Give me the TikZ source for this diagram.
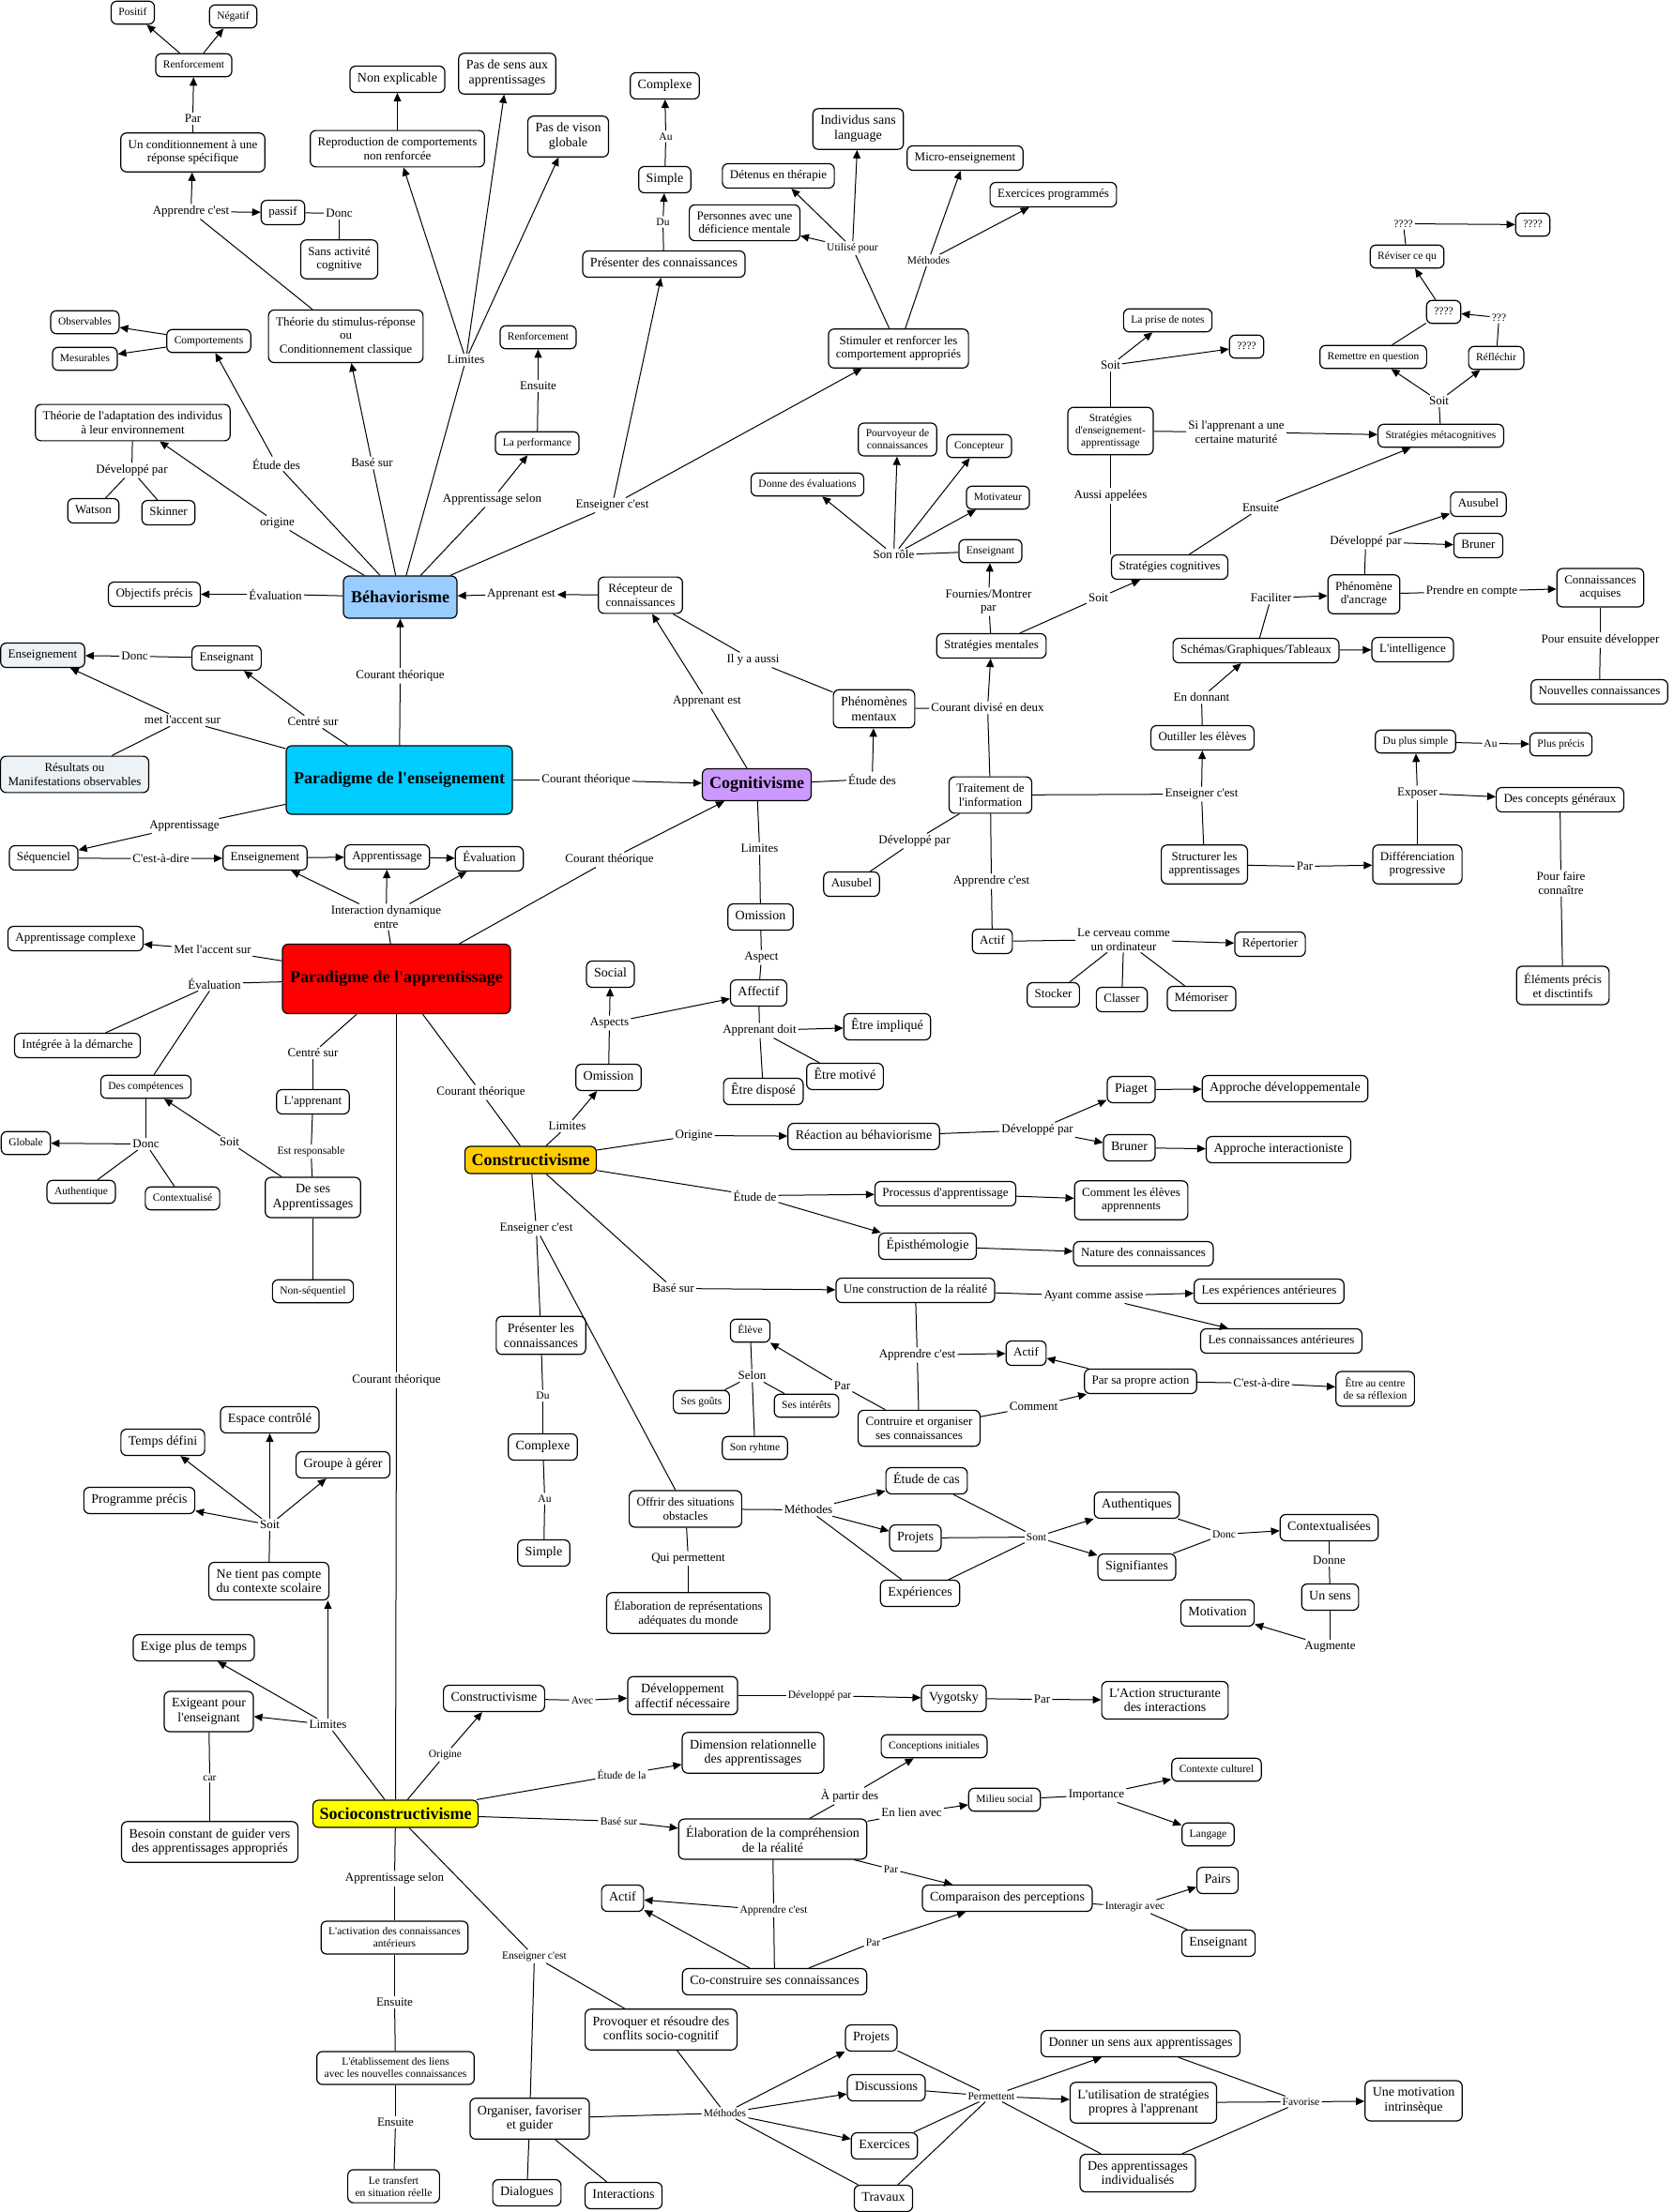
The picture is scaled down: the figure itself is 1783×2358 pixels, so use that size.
\documentclass[tikz,border=0pt]{standalone}
\usepackage{fontspec}
\setmainfont{Liberation Serif}[Ligatures=TeXOff]
\usetikzlibrary{arrows.meta}
\newcommand{\fS}{\fontsize{11.5}{13}\selectfont}
\newcommand{\fM}{\fontsize{13}{14.6}\selectfont}
\newcommand{\fL}{\fontsize{14}{15.7}\selectfont}
\newcommand{\fB}{\fontsize{18}{20}\selectfont\bfseries}
\definecolor{behavc}{RGB}{153,204,255}
\definecolor{pensc}{RGB}{0,204,255}
\definecolor{cognc}{RGB}{204,153,255}
\definecolor{pappc}{RGB}{255,0,0}
\definecolor{constrc}{RGB}{255,204,0}
\definecolor{socioc}{RGB}{255,255,0}
\definecolor{palec}{RGB}{236,242,245}
\tikzset{
  basebox/.style={draw, line width=1.2pt, rounded corners=6pt, inner xsep=8pt, align=center},
  nS/.style={basebox, inner ysep=6.5pt, font=\fS, text height=8.5pt, text depth=3pt},
  nM/.style={basebox, inner ysep=6.5pt, font=\fM, text height=9.6pt, text depth=3.4pt},
  nL/.style={basebox, inner ysep=7pt, font=\fL, text height=10.3pt, text depth=3.7pt},
  mS/.style={basebox, inner ysep=7pt, font=\fS},
  mM/.style={basebox, inner ysep=7.5pt, font=\fM},
  mL/.style={basebox, inner ysep=7.5pt, font=\fL},
  bigbox/.style={draw, line width=1.2pt, rounded corners=6pt, font=\fB, inner sep=2pt, align=center},
  lS/.style={inner sep=2pt, align=center, font=\fS},
  lM/.style={inner sep=2pt, align=center, font=\fM},
  ln/.style={line width=1pt},
  ar/.style={line width=1pt, -{Triangle[length=9pt,width=8pt]}},
}
\begin{document}
\begin{tikzpicture}[x=1pt,y=-1pt]
\fill[white] (0,0) rectangle (1783,2358);
\useasboundingbox (0,0) rectangle (1783,2358);
\begin{scope}[shift={(0.5,0.5)}]
% ---------------- Behaviorisme ----------------
\node[nS] (pos) at (141,13) {Positif};
\node[nS] (neg) at (248,17) {Négatif};
\node[nS] (renf1) at (206,69) {Renforcement};
\node[lM] (lpar1) at (205,126) {Par};
\node[mM] (cond) at (205,162) {Un conditionnement à une\\réponse spécifique};
\node[lM] (lapp1) at (203,225) {Apprendre c'est};
\node[nM] (passif) at (301,226) {passif};
\node[lM] (ldonc1) at (361,227) {Donc};
\node[mM] (sans) at (361,276) {Sans activité\\cognitive};
\node[mM] (theo1) at (368,358) {Théorie du stimulus-réponse\\ou\\Conditionnement classique};
\node[nS] (obs) at (90,343) {Observables};
\node[nS] (mes) at (90,382) {Mesurables};
\node[nS] (comp) at (222,363) {Comportements};
\node[mM] (theo2) at (141,450) {Théorie de l'adaptation des individus\\à leur environnement};
\node[lM] (ldev1) at (140,501) {Développé par};
\node[nM] (watson) at (99,544) {Watson};
\node[nM] (skinner) at (179,546) {Skinner};
\node[lM] (letude1) at (294,494) {Étude des};
\node[lM] (lbase1) at (396,493) {Basé sur};
\node[lM] (lorig1) at (295,557) {origine};
\node[lM] (llim1) at (496,383) {Limites};
\node[nL] (nonexp) at (423,84) {Non explicable};
\node[mM] (repro) at (423,158) {Reproduction de comportements\\non renforcée};
\node[mL] (passens) at (540,78) {Pas de sens aux\\apprentissages};
\node[mL] (pasvis) at (605,145) {Pas de vison\\globale};
\node[nS] (renf2) at (573,359) {Renforcement};
\node[lM] (lens1) at (573,411) {Ensuite};
\node[nS] (perf) at (572,472) {La performance};
\node[lM] (lappsel1) at (524,532) {Apprentissage selon};
\node[lM] (lensc1) at (652,538) {Enseigner c'est};
\node[nL] (cplx1) at (708,91) {Complexe};
\node[lS] (lau1) at (709,145) {Au};
\node[nL] (simp1) at (708,191) {Simple};
\node[lS] (ldu1) at (706,236) {Du};
\node[nL] (pres1) at (707,281) {Présenter des connaissances};
\node[mM] (stim) at (957,371) {Stimuler et renforcer les\\comportement appropriés};
\node[mL] (indiv) at (914,137) {Individus sans\\language};
\node[nM] (detenus) at (829,187) {Détenus en thérapie};
\node[mM] (personnes) at (793,237) {Personnes avec une\\déficience mentale};
\node[lS] (lutil) at (908,264) {Utilisé pour};
\node[nM] (micro) at (1028,168) {Micro-enseignement};
\node[nM] (exprog) at (1122,207) {Exercices programmés};
\node[lS] (lmeth1) at (989,277) {Méthodes};
\node[bigbox, fill=behavc, minimum width=121, minimum height=45] (behav) at (426,636) {Béhaviorisme};
\node[nM] (objp) at (164,633) {Objectifs précis};
\node[lM] (leval1) at (293,633) {Évaluation};
\node[lM] (lappest1) at (555,633) {Apprenant est};
\node[mM] (recep) at (682,634) {Récepteur de\\connaissances};

% ---------------- Paradigme de l'enseignement ----------------
\node[nM, fill=palec] (ensg1) at (45,698) {Enseignement};
\node[lM] (ldonc2) at (143,699) {Donc};
\node[nM] (ensgt1) at (241,701) {Enseignant};
\node[lM] (laccent1) at (194,767) {met l'accent sur};
\node[mM, fill=palec] (result) at (79,825) {Résultats ou\\Manifestations observables};
\node[lM] (lcentre1) at (333,769) {Centré sur};
\node[lM] (lcour1) at (426,720) {Courant théorique};
\node[bigbox, fill=pensc, minimum width=241, minimum height=73] (pens) at (425,831) {Paradigme de l'enseignement};
\node[lM] (lcour2) at (624,831) {Courant théorique};
\node[lM] (lappr1) at (196,880) {Apprentissage};
\node[nM] (seq) at (46,914) {Séquenciel};
\node[lM] (lcad1) at (171,915) {C'est-à-dire};
\node[nM] (ensg2) at (282,914) {Enseignement};
\node[nM] (appr2) at (412,913) {Apprentissage};
\node[nM] (eval2) at (521,915) {Évaluation};
\node[lM] (linter) at (411,977) {Interaction dynamique\\entre};

% ---------------- Paradigme de l'apprentissage ----------------
\node[nM] (apcplx) at (80,1000) {Apprentissage complexe};
\node[lM] (laccent2) at (226,1012) {Met l'accent sur};
\node[bigbox, fill=pappc, minimum width=243, minimum height=74] (papp) at (422,1043) {Paradigme de l'apprentissage};
\node[lM] (leval2) at (228,1048) {Évaluation};
\node[nM] (integ) at (82,1114) {Intégrée à la démarche};
\node[lM] (lcentre2) at (333,1122) {Centré sur};
\node[lM] (lcour3) at (512,1164) {Courant théorique};
\node[lM] (lcour4) at (649,916) {Courant théorique};
\node[lM] (lcour5) at (422,1471) {Courant théorique};
\node[nS] (compet) at (155,1158) {Des compétences};
\node[lM] (ldonc3) at (155,1219) {Donc};
\node[nS] (globale) at (27,1218) {Globale};
\node[nS] (authq) at (86,1270) {Authentique};
\node[nS] (contx) at (194,1277) {Contextualisé};
\node[nM] (lappr) at (333,1174) {L'apprenant};
\node[lS] (lresp) at (331,1227) {Est responsable};
\node[mL] (deses) at (333,1276) {De ses\\Apprentissages};
\node[lM] (lsoit1) at (244,1217) {Soit};
\node[nS] (nonseq) at (333,1376) {Non-séquentiel};
\node[nL] (espace) at (287,1513) {Espace contrôlé};
\node[nL] (temps) at (173,1537) {Temps défini};
\node[nL] (groupe) at (365,1561) {Groupe à gérer};
\node[nL] (prog) at (148,1599) {Programme précis};
\node[lM] (lsoit2) at (287,1625) {Soit};
\node[mL] (netient) at (286,1685) {Ne tient pas compte\\du contexte scolaire};

% ---------------- Cognitivisme ----------------
\node[lM] (lappest2) at (753,747) {Apprenant est};
\node[lM] (lilya) at (802,703) {Il y a aussi};
\node[mL] (phen) at (931,755) {Phénomènes\\mentaux};
\node[lM] (letude2) at (929,830) {Étude des};
\node[bigbox, fill=cognc, minimum width=116, minimum height=34] (cogn) at (806,836) {Cognitivisme};
\node[lM] (ldiv) at (1052,754) {Courant divisé en deux};
\node[nM] (stratm) at (1056,688) {Stratégies mentales};
\node[lM] (lfourn) at (1053,641) {Fournies/Montrer\\par};
\node[nS] (ensgt2) at (1055,587) {Enseignant};
\node[lM] (lrole) at (952,591) {Son rôle};
\node[nS] (donne) at (860,516) {Donne des évaluations};
\node[mS] (pourv) at (956,468) {Pourvoyeur de\\connaissances};
\node[nS] (concep) at (1043,475) {Concepteur};
\node[nS] (motiv) at (1063,530) {Motivateur};
\node[lM] (lsoit3) at (1170,637) {Soit};
\node[mM] (traite) at (1055,847) {Traitement de\\l'information};
\node[lM] (ldev2) at (974,896) {Développé par};
\node[nM] (ausub1) at (907,942) {Ausubel};
\node[lM] (lappc2) at (1056,939) {Apprendre c'est};
\node[nM] (actif1) at (1057,1003) {Actif};
\node[lM] (lcerv) at (1197,1001) {Le cerveau comme\\un ordinateur};
\node[nM] (repert) at (1353,1006) {Répertorier};
\node[nM] (stocker) at (1122,1060) {Stocker};
\node[nM] (classer) at (1195,1065) {Classer};
\node[nM] (memor) at (1280,1064) {Mémoriser};
\node[lM] (llim2) at (809,904) {Limites};
\node[nL] (omis1) at (810,977) {Omission};
\node[lM] (laspect) at (811,1020) {Aspect};
\node[nL] (affect) at (808,1058) {Affectif};
\node[nL] (social) at (650,1038) {Social};
\node[lM] (laspects) at (649,1090) {Aspects};
\node[nL] (omis2) at (648,1148) {Omission};
\node[lM] (lappdoit) at (809,1098) {Apprenant doit};
\node[nL] (impl) at (945,1094) {Être impliqué};
\node[nL] (dispo) at (813,1163) {Être disposé};
\node[nL] (motive) at (900,1147) {Être motivé};

% ---------------- Strategies ----------------
\node[nM] (stratc) at (1246,604) {Stratégies cognitives};
\node[lM] (laussi) at (1183,528) {Aussi appelées};
\node[mS] (strate) at (1183,459) {Stratégies\\d'enseignement-\\apprentissage};
\node[lM] (lsoit4) at (1183,389) {Soit};
\node[nS] (prise) at (1244,341) {La prise de notes};
\node[nS] (q1) at (1328,369) {????};
\node[lM] (lsi) at (1317,460) {Si l'apprenant a une\\certaine maturité};
\node[nS] (meta) at (1535,464) {Stratégies métacognitives};
\node[lM] (lens2) at (1343,541) {Ensuite};
\node[lM] (lsoit5) at (1533,427) {Soit};
\node[nS] (remet) at (1463,380) {Remettre en question};
\node[nS] (reflech) at (1594,381) {Réfléchir};
\node[nS] (q2) at (1538,332) {????};
\node[lS] (lq3) at (1597,338) {???};
\node[nS] (reviser) at (1499,273) {Réviser ce qu};
\node[lS] (lq4) at (1495,238) {????};
\node[nS] (q5) at (1633,239) {????};
\node[nM] (ausub2) at (1575,537) {Ausubel};
\node[nM] (brun1) at (1575,581) {Bruner};
\node[lM] (ldev3) at (1455,577) {Développé par};
\node[mM] (ancr) at (1453,633) {Phénomène\\d'ancrage};
\node[lM] (lfacil) at (1354,637) {Faciliter};
\node[lM] (lprend) at (1568,630) {Prendre en compte};
\node[mM] (connacq) at (1705,626) {Connaissances\\acquises};
\node[lM] (lpour) at (1705,682) {Pour ensuite développer};
\node[nM] (nouv) at (1704,737) {Nouvelles connaissances};
\node[nM] (schem) at (1338,693) {Schémas/Graphiques/Tableaux};
\node[nM] (intel) at (1505,692) {L'intelligence};
\node[lM] (ldonn) at (1280,743) {En donnant};
\node[nM] (outil) at (1281,786) {Outiller les élèves};
\node[lM] (lensc2) at (1280,846) {Enseigner c'est};
\node[mM] (struct) at (1283,921) {Structurer les\\apprentissages};
\node[lM] (lpar2) at (1390,923) {Par};
\node[mM] (diff) at (1510,921) {Différenciation\\progressive};
\node[lM] (lexpo) at (1510,845) {Exposer};
\node[nS] (duplus) at (1508,790) {Du plus simple};
\node[lS] (lau2) at (1588,792) {Au};
\node[nS] (plusp) at (1663,793) {Plus précis};
\node[nM] (concg) at (1662,852) {Des concepts généraux};
\node[lM] (lpourf) at (1663,941) {Pour faire\\connaître};
\node[mM] (elem) at (1665,1050) {Éléments précis\\et disctintifs};

% ---------------- Constructivisme ----------------
\node[bigbox, fill=constrc, minimum width=140, minimum height=29] (constr) at (565,1236) {Constructivisme};
\node[lM] (llim3) at (604,1200) {Limites};
\node[lM] (lorig2) at (739,1210) {Origine};
\node[nL] (reac) at (920,1211) {Réaction au béhaviorisme};
\node[lM] (ldev4) at (1105,1204) {Développé par};
\node[nL] (piaget) at (1205,1161) {Piaget};
\node[nL] (appdev) at (1369,1160) {Approche développementale};
\node[nL] (brun2) at (1203,1223) {Bruner};
\node[nL] (appint) at (1362,1225) {Approche interactioniste};
\node[lM] (letude3) at (804,1274) {Étude de};
\node[nM] (proc) at (1007,1272) {Processus d'apprentissage};
\node[mM] (commel) at (1205,1279) {Comment les élèves\\apprennents};
\node[nL] (epis) at (988,1328) {Épisthémologie};
\node[nM] (nature) at (1218,1336) {Nature des connaissances};
\node[lM] (lbase2) at (717,1373) {Basé sur};
\node[nM] (uneconst) at (975,1375) {Une construction de la réalité};
\node[lM] (layant) at (1165,1381) {Ayant comme assise};
\node[nM] (lesexp) at (1352,1376) {Les expériences antérieures};
\node[nM] (lescon) at (1365,1429) {Les connaissances antérieures};
\node[lM] (lappc3) at (977,1444) {Apprendre c'est};
\node[nM] (actif2) at (1093,1442) {Actif};
\node[nM] (parsa) at (1215,1472) {Par sa propre action};
\node[lM] (lcad2) at (1344,1474) {C'est-à-dire};
\node[mS] (etreac) at (1465,1480) {Être au centre\\de sa réflexion};
\node[lM] (lcomm) at (1101,1499) {Comment};
\node[mM] (contr) at (979,1522) {Contruire et organiser\\ses connaissances};
\node[lM] (lpar3) at (897,1477) {Par};
\node[nS] (eleve) at (799,1418) {Élève};
\node[lM] (lselon) at (801,1466) {Selon};
\node[nS] (gouts) at (747,1494) {Ses goûts};
\node[nS] (inter) at (859,1498) {Ses intérêts};
\node[nS] (rythme) at (804,1543) {Son ryhtme};
\node[lM] (lensc3) at (571,1309) {Enseigner c'est};
\node[mL] (pres2) at (576,1423) {Présenter les\\connaissances};
\node[lS] (ldu2) at (578,1487) {Du};
\node[nL] (cplx2) at (578,1542) {Complexe};
\node[lS] (lau3) at (580,1597) {Au};
\node[nL] (simp2) at (579,1655) {Simple};
\node[mM] (offrir) at (730,1608) {Offrir des situations\\obstacles};
\node[lM] (lqui) at (733,1661) {Qui permettent};
\node[mM] (elabr) at (733,1719) {Élaboration de représentations\\adéquates du monde};
\node[lM] (lmeth2) at (861,1609) {Méthodes};
\node[nL] (etcas) at (987,1578) {Étude de cas};
\node[nL] (proj1) at (975,1639) {Projets};
\node[nL] (exper) at (980,1698) {Expériences};
\node[lS] (lsont) at (1104,1638) {Sont};
\node[nL] (authes) at (1211,1604) {Authentiques};
\node[nL] (signif) at (1211,1670) {Signifiantes};
\node[lS] (ldonc4) at (1304,1635) {Donc};
\node[nL] (contxs) at (1416,1628) {Contextualisées};
\node[lM] (ldonne) at (1416,1663) {Donne};
\node[nL] (unsens) at (1417,1702) {Un sens};
\node[lM] (laugm) at (1417,1755) {Augmente};
\node[nL] (motivn) at (1297,1719) {Motivation};

% ---------------- Socioconstructivisme ----------------
\node[nL] (exige) at (206,1756) {Exige plus de temps};
\node[mL] (exigeant) at (222,1824) {Exigeant pour\\l'enseignant};
\node[lM] (llim4) at (349,1838) {Limites};
\node[lS] (lcar) at (223,1895) {car};
\node[mL] (besoin) at (223,1963) {Besoin constant de guider vers\\des apprentissages appropriés};
\node[bigbox, fill=socioc, minimum width=176, minimum height=29] (socio) at (421,1933) {Socioconstructivisme};
\node[lS] (lorig3) at (474,1870) {Origine};
\node[nL] (constr2) at (526,1810) {Constructivisme};
\node[lS] (lavec) at (620,1812) {Avec};
\node[mL] (devaff) at (727,1807) {Développement\\affectif nécessaire};
\node[lS] (ldev5) at (873,1807) {Développé par};
\node[nL] (vygo) at (1016,1810) {Vygotsky};
\node[lM] (lpar4) at (1110,1811) {Par};
\node[mL] (action) at (1241,1812) {L'Action structurante\\des interactions};
\node[mL] (dimrel) at (802,1868) {Dimension relationnelle\\des apprentissages};
\node[lS] (letude4) at (662,1891) {Étude de la};
\node[lS] (lbase3) at (659,1941) {Basé sur};
\node[mL] (elabc) at (823,1960) {Élaboration de la compréhension\\de la réalité};
\node[nS] (concin) at (995,1861) {Conceptions initiales};
\node[lM] (lapartir) at (905,1914) {À partir des};
\node[lM] (lenlien) at (971,1932) {En lien avec};
\node[nS] (milieu) at (1070,1918) {Milieu social};
\node[lM] (limport) at (1168,1913) {Importance};
\node[nS] (contcult) at (1296,1886) {Contexte culturel};
\node[nS] (langage) at (1287,1955) {Langage};
\node[lS] (lpar5) at (949,1992) {Par};
\node[nL] (compar) at (1073,2023) {Comparaison des perceptions};
\node[lS] (linteragir) at (1209,2032) {Interagir avec};
\node[nL] (pairs) at (1297,2004) {Pairs};
\node[nL] (ensgt3) at (1298,2071) {Enseignant};
\node[nL] (actif3) at (663,2023) {Actif};
\node[lS] (lappc4) at (824,2036) {Apprendre c'est};
\node[nL] (cocon) at (825,2112) {Co-construire ses connaissances};
\node[lS] (lpar6) at (930,2070) {Par};
\node[lM] (lappsel2) at (420,2002) {Apprentissage selon};
\node[mS] (activ) at (420,2065) {L'activation des connaissances\\antérieurs};
\node[lM] (lens3) at (420,2134) {Ensuite};
\node[mS] (etabl) at (421,2204) {L'établissement des liens\\avec les nouvelles connaissances};
\node[lM] (lens4) at (421,2262) {Ensuite};
\node[mS] (transf) at (419,2330) {Le transfert\\en situation réelle};
\node[lS] (lensc4) at (569,2085) {Enseigner c'est};
\node[mL] (organ) at (564,2258) {Organiser, favoriser\\et guider};
\node[nL] (dialog) at (561,2337) {Dialogues};
\node[nL] (interac) at (664,2340) {Interactions};
\node[mL] (provoq) at (704,2163) {Provoquer et résoudre des\\conflits socio-cognitif};
\node[lS] (lmeth3) at (772,2252) {Méthodes};
\node[nL] (proj2) at (928,2172) {Projets};
\node[nL] (discu) at (944,2225) {Discussions};
\node[nL] (exerc) at (942,2287) {Exercices};
\node[nL] (travx) at (941,2343) {Travaux};
\node[lS] (lperm) at (1056,2234) {Permettent};
\node[nL] (donner) at (1215,2178) {Donner un sens aux apprentissages};
\node[mL] (utilis) at (1218,2241) {L'utilisation de stratégies\\propres à l'apprenant};
\node[mL] (desapp) at (1212,2316) {Des apprentissages\\individualisés};
\node[lS] (lfavor) at (1386,2240) {Favorise};
\node[mL] (unemot) at (1506,2239) {Une motivation\\intrinsèque};

% ================= CONNECTORS =================
% Behaviorisme
\draw[ar] (renf1) -- (pos);
\draw[ar] (renf1) -- (neg);
\draw[ln] (cond) -- (lpar1); \draw[ar] (lpar1) -- (renf1);
\draw[ln] (theo1) -- (lapp1); \draw[ar] (lapp1) -- (cond); \draw[ar] (lapp1) -- (passif);
\draw[ln] (passif) -- (ldonc1); \draw[ln] (ldonc1) -- (sans);
\draw[ar] (comp) -- (obs); \draw[ar] (comp) -- (mes);
\draw[ln] (theo2) -- (ldev1); \draw[ln] (ldev1) -- (watson); \draw[ln] (ldev1) -- (skinner);
\draw[ln] (behav) -- (letude1); \draw[ar] (letude1) -- (comp);
\draw[ln] (behav) -- (lbase1); \draw[ar] (lbase1) -- (theo1);
\draw[ln] (behav) -- (lorig1); \draw[ar] (lorig1) -- (theo2);
\draw[ln] (behav) -- (llim1); \draw[ar] (llim1) -- (repro); \draw[ar] (llim1) -- (passens); \draw[ar] (llim1) -- (pasvis);
\draw[ar] (repro) -- (nonexp);
\draw[ln] (behav) -- (lappsel1); \draw[ar] (lappsel1) -- (perf);
\draw[ln] (perf) -- (lens1); \draw[ar] (lens1) -- (renf2);
\draw[ln] (behav) -- (lensc1); \draw[ar] (lensc1) -- (pres1); \draw[ar] (lensc1) -- (stim);
\draw[ln] (pres1) -- (ldu1); \draw[ar] (ldu1) -- (simp1);
\draw[ln] (simp1) -- (lau1); \draw[ar] (lau1) -- (cplx1);
\draw[ln] (stim) -- (lutil); \draw[ar] (lutil) -- (personnes); \draw[ar] (lutil) -- (detenus); \draw[ar] (lutil) -- (indiv);
\draw[ln] (stim) -- (lmeth1); \draw[ar] (lmeth1) -- (micro); \draw[ar] (lmeth1) -- (exprog);
\draw[ln] (behav) -- (leval1); \draw[ar] (leval1) -- (objp);
\draw[ar] (recep) -- (lappest1); \draw[ar] (lappest1) -- (behav);

% Paradigme de l'enseignement
\draw[ln] (pens) -- (lcour1); \draw[ar] (lcour1) -- (behav);
\draw[ln] (pens) -- (lcentre1); \draw[ar] (lcentre1) -- (ensgt1);
\draw[ln] (pens) -- (laccent1); \draw[ar] (laccent1) -- (ensg1); \draw[ln] (laccent1) -- (result);
\draw[ln] (ensgt1) -- (ldonc2); \draw[ar] (ldonc2) -- (ensg1);
\draw[ln] (pens) -- (lappr1); \draw[ar] (lappr1) -- (seq);
\draw[ln] (seq) -- (lcad1); \draw[ar] (lcad1) -- (ensg2);
\draw[ar] (ensg2) -- (appr2); \draw[ar] (appr2) -- (eval2);
\draw[ln] (pens) -- (lcour2); \draw[ar] (lcour2) -- (cogn);

% Paradigme de l'apprentissage
\draw[ln] (papp) -- (linter); \draw[ar] (linter) -- (ensg2); \draw[ar] (linter) -- (appr2); \draw[ar] (linter) -- (eval2);
\draw[ln] (papp) -- (laccent2); \draw[ar] (laccent2) -- (apcplx);
\draw[ln] (papp) -- (leval2); \draw[ln] (leval2) -- (integ); \draw[ln] (leval2) -- (compet);
\draw[ln] (papp) -- (lcentre2); \draw[ln] (lcentre2) -- (lappr);
\draw[ln] (papp) -- (lcour3); \draw[ln] (lcour3) -- (constr);
\draw[ln] (papp) -- (lcour4); \draw[ar] (lcour4) -- (cogn);
\draw[ln] (papp) -- (lcour5); \draw[ln] (lcour5) -- (socio);
\draw[ln] (lappr) -- (lresp); \draw[ln] (lresp) -- (deses);
\draw[ln] (deses) -- (lsoit1); \draw[ar] (lsoit1) -- (compet);
\draw[ln] (deses) -- (nonseq);
\draw[ln] (compet) -- (ldonc3); \draw[ar] (ldonc3) -- (globale); \draw[ln] (ldonc3) -- (authq); \draw[ln] (ldonc3) -- (contx);

% Cognitivisme
\draw[ln] (cogn) -- (lappest2); \draw[ar] (lappest2) -- (recep);
\draw[ln] (phen) -- (lilya); \draw[ln] (lilya) -- (recep);
\draw[ln] (cogn) -- (letude2); \draw[ar] (letude2) -- (phen);
\draw[ln] (phen) -- (ldiv); \draw[ar] (ldiv) -- (stratm); \draw[ln] (ldiv) -- (traite);
\draw[ln] (stratm) -- (lfourn); \draw[ar] (lfourn) -- (ensgt2);
\draw[ln] (ensgt2) -- (lrole); \draw[ar] (lrole) -- (donne); \draw[ar] (lrole) -- (pourv); \draw[ar] (lrole) -- (concep); \draw[ar] (lrole) -- (motiv);
\draw[ln] (stratm) -- (lsoit3); \draw[ar] (lsoit3) -- (stratc);
\draw[ln] (laussi) -- (laussi |- stratc.north); \draw[ln] (laussi) -- (strate);
\draw[ln] (strate) -- (lsoit4); \draw[ar] (lsoit4) -- (prise); \draw[ar] (lsoit4) -- (q1);
\draw[ln] (strate) -- (lsi); \draw[ar] (lsi) -- (meta);
\draw[ln] (stratc) -- (lens2); \draw[ar] (lens2) -- (meta);
\draw[ln] (meta) -- (lsoit5); \draw[ar] (lsoit5) -- (remet); \draw[ar] (lsoit5) -- (reflech);
\draw[ln] (remet) -- (q2);
\draw[ln] (reflech) -- (lq3); \draw[ar] (lq3) -- (q2);
\draw[ar] (q2) -- (reviser);
\draw[ln] (reviser) -- (lq4); \draw[ar] (lq4) -- (q5);
\draw[ln] (traite) -- (ldev2); \draw[ln] (ldev2) -- (ausub1);
\draw[ln] (traite) -- (lappc2); \draw[ln] (lappc2) -- (actif1);
\draw[ln] (actif1) -- (lcerv); \draw[ar] (lcerv) -- (repert); \draw[ln] (lcerv) -- (stocker); \draw[ln] (lcerv) -- (classer); \draw[ln] (lcerv) -- (memor);
\draw[ln] (traite) -- (lensc2); \draw[ln] (struct) -- (lensc2); \draw[ar] (lensc2) -- (outil);
\draw[ln] (outil) -- (ldonn); \draw[ar] (ldonn) -- (schem);
\draw[ar] (schem) -- (intel);
\draw[ln] (schem) -- (lfacil); \draw[ar] (lfacil) -- (ancr);
\draw[ln] (ancr) -- (ldev3); \draw[ar] (ldev3) -- (ausub2); \draw[ar] (ldev3) -- (brun1);
\draw[ln] (ancr) -- (lprend); \draw[ar] (lprend) -- (connacq);
\draw[ln] (connacq) -- (lpour); \draw[ln] (lpour) -- (nouv);
\draw[ln] (struct) -- (lpar2); \draw[ar] (lpar2) -- (diff);
\draw[ln] (diff) -- (lexpo); \draw[ar] (lexpo) -- (duplus); \draw[ar] (lexpo) -- (concg);
\draw[ln] (duplus) -- (lau2); \draw[ar] (lau2) -- (plusp);
\draw[ln] (concg) -- (lpourf); \draw[ln] (lpourf) -- (elem);
\draw[ln] (cogn) -- (llim2); \draw[ln] (llim2) -- (omis1);
\draw[ln] (omis1) -- (laspect); \draw[ln] (laspect) -- (affect);
\draw[ln] (affect) -- (lappdoit); \draw[ar] (lappdoit) -- (impl); \draw[ln] (lappdoit) -- (dispo); \draw[ln] (lappdoit) -- (motive);

% Constructivisme
\draw[ln] (constr) -- (llim3); \draw[ar] (llim3) -- (omis2);
\draw[ln] (omis2) -- (laspects); \draw[ar] (laspects) -- (social); \draw[ar] (laspects) -- (affect);
\draw[ln] (constr) -- (lorig2); \draw[ar] (lorig2) -- (reac);
\draw[ln] (reac) -- (ldev4); \draw[ar] (ldev4) -- (piaget); \draw[ar] (ldev4) -- (brun2);
\draw[ar] (piaget) -- (appdev); \draw[ar] (brun2) -- (appint);
\draw[ln] (constr) -- (letude3); \draw[ar] (letude3) -- (proc); \draw[ar] (letude3) -- (epis);
\draw[ar] (proc) -- (commel); \draw[ar] (epis) -- (nature);
\draw[ln] (constr) -- (lbase2); \draw[ar] (lbase2) -- (uneconst);
\draw[ln] (uneconst) -- (layant); \draw[ar] (layant) -- (lesexp); \draw[ar] (layant) -- (lescon);
\draw[ln] (uneconst) -- (lappc3); \draw[ln] (contr) -- (lappc3); \draw[ar] (lappc3) -- (actif2);
\draw[ar] (parsa) -- (actif2);
\draw[ln] (contr) -- (lcomm); \draw[ar] (lcomm) -- (parsa);
\draw[ln] (parsa) -- (lcad2); \draw[ar] (lcad2) -- (etreac);
\draw[ln] (contr) -- (lpar3); \draw[ar] (lpar3) -- (eleve);
\draw[ln] (eleve) -- (lselon); \draw[ln] (lselon) -- (gouts); \draw[ln] (lselon) -- (inter); \draw[ln] (lselon) -- (rythme);
\draw[ln] (constr) -- (lensc3); \draw[ln] (lensc3) -- (pres2); \draw[ln] (lensc3) -- (offrir);
\draw[ln] (pres2) -- (ldu2); \draw[ln] (ldu2) -- (cplx2); \draw[ln] (cplx2) -- (lau3); \draw[ln] (lau3) -- (simp2);
\draw[ln] (offrir) -- (lqui); \draw[ln] (lqui) -- (elabr);
\draw[ln] (offrir) -- (lmeth2); \draw[ar] (lmeth2) -- (etcas); \draw[ar] (lmeth2) -- (proj1); \draw[ln] (lmeth2) -- (exper);
\draw[ln] (etcas) -- (lsont); \draw[ln] (proj1) -- (lsont); \draw[ln] (exper) -- (lsont);
\draw[ar] (lsont) -- (authes); \draw[ar] (lsont) -- (signif);
\draw[ln] (authes) -- (ldonc4); \draw[ln] (signif) -- (ldonc4); \draw[ar] (ldonc4) -- (contxs);
\draw[ln] (contxs) -- (ldonne); \draw[ln] (ldonne) -- (unsens);
\draw[ln] (unsens) -- (laugm); \draw[ar] (laugm) -- (motivn);

% Socioconstructivisme
\draw[ln] (socio) -- (llim4); \draw[ar] (llim4) -- (exige); \draw[ar] (llim4) -- (exigeant); \draw[ar] (llim4) -- (llim4 |- netient.south);
\draw[ln] (exigeant) -- (lcar); \draw[ln] (lcar) -- (besoin);
\draw[ln] (netient) -- (lsoit2); \draw[ar] (lsoit2) -- (prog); \draw[ar] (lsoit2) -- (temps); \draw[ar] (lsoit2) -- (espace); \draw[ar] (lsoit2) -- (groupe);
\draw[ln] (socio) -- (lorig3); \draw[ar] (lorig3) -- (constr2);
\draw[ln] (constr2) -- (lavec); \draw[ar] (lavec) -- (devaff);
\draw[ln] (devaff) -- (ldev5); \draw[ar] (ldev5) -- (vygo);
\draw[ln] (vygo) -- (lpar4); \draw[ar] (lpar4) -- (action);
\draw[ln] (socio) -- (letude4); \draw[ar] (letude4) -- (dimrel);
\draw[ln] (socio) -- (lbase3); \draw[ar] (lbase3) -- (elabc);
\draw[ln] (elabc) -- (lapartir); \draw[ar] (lapartir) -- (concin);
\draw[ln] (elabc) -- (lenlien); \draw[ar] (lenlien) -- (milieu);
\draw[ln] (milieu) -- (limport); \draw[ar] (limport) -- (contcult); \draw[ar] (limport) -- (langage);
\draw[ln] (elabc) -- (lpar5); \draw[ar] (lpar5) -- (compar);
\draw[ln] (elabc) -- (lappc4); \draw[ln] (lappc4) -- (cocon); \draw[ar] (lappc4) -- (actif3);
\draw[ar] (cocon) -- (actif3);
\draw[ln] (cocon) -- (lpar6); \draw[ar] (lpar6) -- (compar);
\draw[ln] (compar) -- (linteragir); \draw[ar] (linteragir) -- (pairs); \draw[ln] (linteragir) -- (ensgt3);
\draw[ln] (socio) -- (lappsel2); \draw[ln] (lappsel2) -- (activ);
\draw[ln] (activ) -- (lens3); \draw[ln] (lens3) -- (etabl);
\draw[ln] (etabl) -- (lens4); \draw[ln] (lens4) -- (transf);
\draw[ln] (socio) -- (lensc4); \draw[ln] (lensc4) -- (organ); \draw[ln] (lensc4) -- (provoq);
\draw[ln] (organ) -- (dialog); \draw[ln] (organ) -- (interac);
\draw[ln] (organ) -- (lmeth3); \draw[ln] (provoq) -- (lmeth3);
\draw[ar] (lmeth3) -- (proj2); \draw[ar] (lmeth3) -- (discu); \draw[ar] (lmeth3) -- (exerc); \draw[ln] (lmeth3) -- (travx);
\draw[ln] (proj2) -- (lperm); \draw[ln] (discu) -- (lperm); \draw[ln] (exerc) -- (lperm); \draw[ln] (travx) -- (lperm);
\draw[ar] (lperm) -- (donner); \draw[ar] (lperm) -- (utilis); \draw[ln] (lperm) -- (desapp);
\draw[ln] (donner) -- (lfavor); \draw[ln] (utilis) -- (lfavor); \draw[ln] (desapp) -- (lfavor); \draw[ar] (lfavor) -- (unemot);
\end{scope}
\end{tikzpicture}
\end{document}
